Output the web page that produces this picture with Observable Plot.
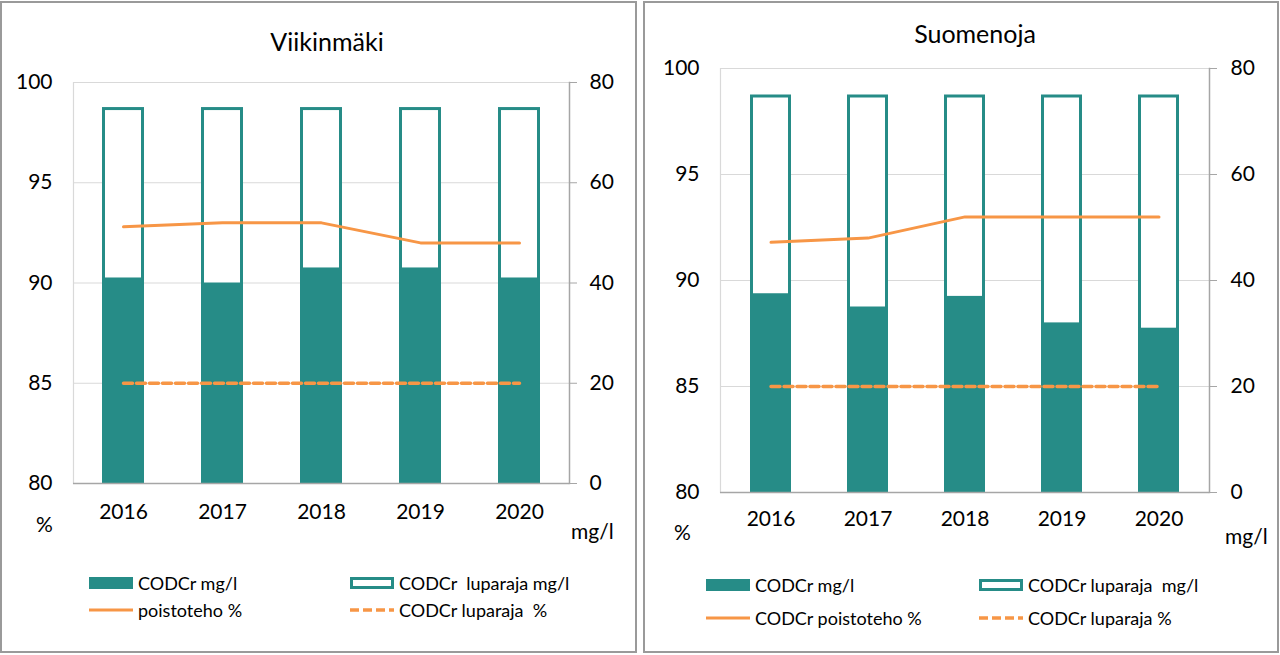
<!DOCTYPE html>
<html>
<head>
<meta charset="utf-8">
<script src="https://cdn.jsdelivr.net/npm/d3@7"></script>
<script src="https://cdn.jsdelivr.net/npm/@observablehq/plot@0.6"></script>
<style>
  html, body { margin: 0; padding: 0; background: #fff; }
  body { width: 1280px; height: 655px; position: relative; overflow: hidden; font-family: Lato, "Open Sans", sans-serif; color: #000; }
  .panel { position: absolute; box-sizing: border-box; border: 2px solid #9a9a9a; }
  .chart { position: absolute; top: 0; }
  .title { position: absolute; font-size: 25px; transform: translateX(-50%); white-space: nowrap; line-height: 1; }
  .unit { position: absolute; font-size: 21px; line-height: 1; white-space: nowrap; }
  .leg { position: absolute; display: flex; align-items: center; font-size: 18px; white-space: nowrap; transform: translateY(-50%); }
  .leg svg { margin-right: 5px; }
</style>
</head>
<body>
<div class="panel" style="left:0px; top:1px; width:637px; height:652px;"></div>
<div class="panel" style="left:643px; top:1px; width:636px; height:652px;"></div>
<div id="c1" class="chart" style="left:0px;"></div>
<div id="c2" class="chart" style="left:640px;"></div>
<div id="extra"></div>
<script>
const years = ["2016", "2017", "2018", "2019", "2020"];

// Viikinmäki
const vkCod = [41, 40, 43, 43, 41];          // CODCr mg/l
const vkLimitMg = [75, 75, 75, 75, 75];      // CODCr luparaja mg/l
const vkRemoval = [92.8, 93, 93, 92, 92];    // poistoteho %
const vkLimitPct = [85, 85, 85, 85, 85];     // CODCr luparaja %

// Suomenoja
const smCod = [37.5, 35, 37, 32, 31];
const smLimitMg = [75, 75, 75, 75, 75];
const smRemoval = [91.8, 92, 93, 93, 93];
const smLimitPct = [85, 85, 85, 85, 85];

const pctTicks = [80, 85, 90, 95, 100];
const mgTicks = [0, 20, 40, 60, 80];

const vkLegend = ["CODCr mg/l", "CODCr  luparaja mg/l", "poistoteho %", "CODCr luparaja  %"];
const smLegend = ["CODCr mg/l", "CODCr luparaja  mg/l", "CODCr poistoteho %", "CODCr luparaja %"];

const teal = "#268c87";
const orange = "#f79646";

// secondary (mg/l) axis 0..80 mapped onto the primary % axis 80..100
const mgToPct = mg => pctTicks[0] + mg * (pctTicks[pctTicks.length - 1] - pctTicks[0]) / mgTicks[mgTicks.length - 1];

function makeChart(cod, limMg, rem, limPct, m) {
  const rows = years.map((y, i) => ({year: y, cod: cod[i], lim: limMg[i], rem: rem[i], limPct: limPct[i]}));
  return Plot.plot({
    width: 640,
    height: 540,
    marginLeft: m.left,
    marginRight: m.right,
    marginTop: m.top,
    marginBottom: m.bottom,
    style: {fontFamily: "Lato, 'Open Sans', sans-serif", fontSize: "21px", color: "#000", background: "transparent", overflow: "visible"},
    x: {type: "band", domain: years, paddingInner: 0.575, paddingOuter: 0.2875, axis: null},
    y: {domain: [80, 100], axis: null},
    marks: [
      Plot.ruleY(pctTicks.slice(1), {stroke: "#d9d9d9", strokeWidth: 1.2}),
      Plot.frame({anchor: "left", stroke: "#d9d9d9", strokeWidth: 1.2}),
      Plot.frame({anchor: "right", stroke: "#a6a6a6", strokeWidth: 1.5}),
      Plot.barY(rows, {x: "year", y1: 80, y2: d => mgToPct(d.lim), fill: "white", stroke: teal, strokeWidth: 3, inset: 1.5}),
      Plot.barY(rows, {x: "year", y1: 80, y2: d => mgToPct(d.cod), fill: teal}),
      Plot.ruleY([80], {stroke: "#a6a6a6", strokeWidth: 1.5}),
      Plot.lineY(rows, {x: "year", y: "rem", stroke: orange, strokeWidth: 3}),
      Plot.lineY(rows, {x: "year", y: "limPct", stroke: orange, strokeWidth: 3.5, strokeDasharray: "9,4"}),
      Plot.axisY(pctTicks, {anchor: "left", tickSize: 0, tickPadding: m.lpad, fill: "#000", label: null}),
      Plot.axisY(pctTicks, {anchor: "right", tickSize: 7, tickPadding: m.rpad, stroke: "#a6a6a6", fill: "#000", label: null, tickFormat: (v, i) => String(mgTicks[i])}),
      Plot.axisX({tickSize: 0, tickPadding: m.xpad, fill: "#000", label: null})
    ]
  });
}

document.getElementById("c1").appendChild(
  makeChart(vkCod, vkLimitMg, vkRemoval, vkLimitPct, {left: 73, right: 71, top: 82, bottom: 57, lpad: 21, rpad: 13, xpad: 21})
);
document.getElementById("c2").appendChild(
  makeChart(smCod, smLimitMg, smRemoval, smLimitPct, {left: 80, right: 71, top: 68, bottom: 48, lpad: 21, rpad: 14, xpad: 19})
);

function swatch(kind) {
  const w = 44, h = 12;
  if (kind === 0) return `<svg width="${w}" height="${h}"><rect x="0" y="0" width="${w}" height="${h}" fill="${teal}"/></svg>`;
  if (kind === 1) return `<svg width="${w}" height="${h}"><rect x="1.5" y="1.5" width="${w-3}" height="${h-3}" fill="white" stroke="${teal}" stroke-width="3"/></svg>`;
  if (kind === 2) return `<svg width="${w}" height="${h}"><line x1="0" x2="${w}" y1="6" y2="6" stroke="${orange}" stroke-width="3"/></svg>`;
  return `<svg width="${w}" height="${h}"><line x1="0" x2="${w}" y1="6" y2="6" stroke="${orange}" stroke-width="3.5" stroke-dasharray="9,4"/></svg>`;
}

const extra = document.getElementById("extra");
function add(html) { extra.insertAdjacentHTML("beforeend", html); }

// titles
add(`<div class="title" style="left:327px; top:29px;">Viikinmäki</div>`);
add(`<div class="title" style="left:975px; top:21px;">Suomenoja</div>`);
// unit labels
add(`<div class="unit" style="left:36px; top:513px;">%</div>`);
add(`<div class="unit" style="left:571px; top:520px;">mg/l</div>`);
add(`<div class="unit" style="left:674px; top:521px;">%</div>`);
add(`<div class="unit" style="left:1225px; top:525px;">mg/l</div>`);

// legends
const legPos1 = [[89, 583], [350, 583], [89, 610], [350, 610]];
const legPos2 = [[706, 585], [979, 585], [706, 618], [979, 618]];
vkLegend.forEach((t, i) => add(`<div class="leg" style="left:${legPos1[i][0]}px; top:${legPos1[i][1]}px;">${swatch(i)}<span>${t.replace(/  /g, " &nbsp;")}</span></div>`));
smLegend.forEach((t, i) => add(`<div class="leg" style="left:${legPos2[i][0]}px; top:${legPos2[i][1]}px;">${swatch(i)}<span>${t.replace(/  /g, " &nbsp;")}</span></div>`));
</script>
</body>
</html>
